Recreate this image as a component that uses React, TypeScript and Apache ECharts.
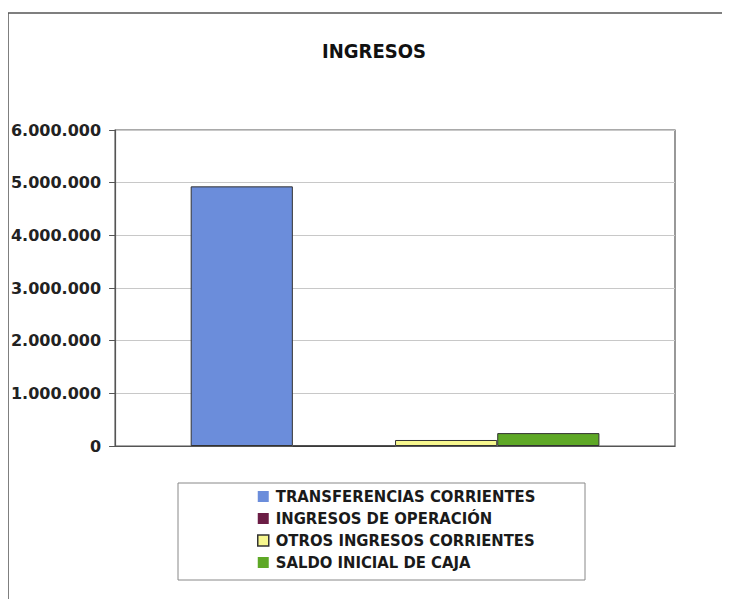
import React, { useEffect, useRef } from "react";
import * as echarts from "echarts";

const categories = [""];
const seriesNames = [
  "TRANSFERENCIAS CORRIENTES",
  "INGRESOS DE OPERACIÓN",
  "OTROS INGRESOS CORRIENTES",
  "SALDO INICIAL DE CAJA",
];
const transferencias = [4930000];
const ingresosOperacion = [0];
const otrosIngresos = [114000];
const saldoInicial = [245000];
const seriesColors = ["#6b8ddb", "#6b1d45", "#f7f78e", "#5ea826"];
const yTicks = [0, 1000000, 2000000, 3000000, 4000000, 5000000, 6000000];

const fmt = (v: number) =>
  v === 0 ? "0" : String(v).replace(/\B(?=(\d{3})+(?!\d))/g, ".");

export default function App() {
  const ref = useRef<HTMLDivElement>(null);
  useEffect(() => {
    const chart = echarts.init(ref.current!, undefined, { renderer: "svg" });
    const data = [transferencias, ingresosOperacion, otrosIngresos, saldoInicial];
    chart.setOption({
      animation: false,
      backgroundColor: "#ffffff",
      title: {
        text: "INGRESOS",
        left: 361,
        textAlign: "center",
        top: 28,
        textStyle: { fontFamily: "DejaVu Sans Condensed", fontWeight: "bold", fontSize: 20, color: "#111" },
      },
      graphic: [
        {
          type: "rect",
          shape: { x: 0, y: 5, width: 740, height: 600 },
          style: { fill: "none", stroke: "#555", lineWidth: 1.5 },
        },
        {
          type: "rect",
          shape: { x: 170, y: 475, width: 407, height: 97 },
          style: { fill: "none", stroke: "#888", lineWidth: 1 },
        },
      ],
      grid: { left: 107, top: 122, width: 560, height: 316, show: true, borderColor: "#555", borderWidth: 1.2 },
      xAxis: {
        type: "category",
        data: categories,
        axisTick: { show: false },
        axisLabel: { show: false },
        axisLine: { lineStyle: { color: "#555", width: 1.2 } },
      },
      yAxis: {
        type: "value",
        min: yTicks[0],
        max: yTicks[yTicks.length - 1],
        interval: 1000000,
        axisLine: { show: true, lineStyle: { color: "#555", width: 1.2 } },
        axisTick: { show: true, length: 6, lineStyle: { color: "#555" } },
        splitLine: { lineStyle: { color: "#c8c8c8", width: 1 } },
        axisLabel: {
          formatter: (v: number) => fmt(v),
          fontFamily: "DejaVu Sans",
          fontWeight: "bold",
          fontSize: 16,
          color: "#222",
          margin: 14,
        },
      },
      legend: {
        orient: "vertical",
        left: 244,
        top: 475,
        itemWidth: 11,
        itemHeight: 11,
        itemGap: 5,
        icon: "rect",
        textStyle: { fontFamily: "DejaVu Sans Condensed", fontWeight: "bold", fontSize: 16.5, color: "#1a1a1a", padding: [0, 0, 0, 2] },
        data: seriesNames.map((n, i) => ({
          name: n,
          itemStyle: { borderColor: "#333", borderWidth: i === 2 ? 1.5 : 0 },
        })),
      },
      series: seriesNames.map((name, i) => ({
        name,
        type: "bar",
        data: data[i],
        barGap: "0%",
        barCategoryGap: "27%",
        itemStyle: { color: seriesColors[i], borderColor: "#333", borderWidth: 1 },
      })),
    });
    return () => chart.dispose();
  }, []);
  return <div ref={ref} style={{ width: 722, height: 591 }} />;
}
